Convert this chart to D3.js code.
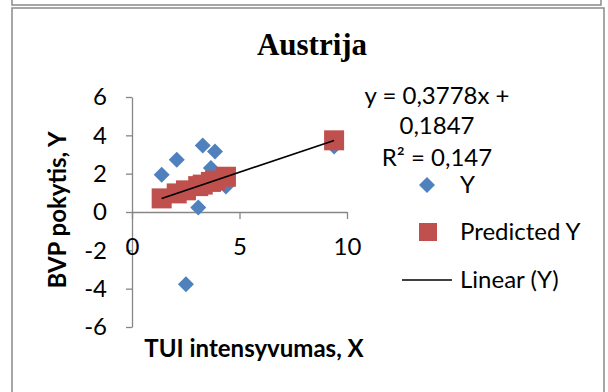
<!DOCTYPE html>
<html>
<head>
<meta charset="utf-8">
<script src="https://cdn.jsdelivr.net/npm/d3@7/dist/d3.min.js"></script>
<style>
  html, body { margin: 0; padding: 0; background: #ffffff; }
  svg { display: block; }
  .lbl { font-family: Lato, "Noto Sans", sans-serif; fill: #000; }
</style>
</head>
<body>
<svg id="chart" width="608" height="392"></svg>
<script>
// Observed values: TUI intensity (X) against GDP change (Y)
const tuiX      = [1.38, 2.08, 2.51, 3.08, 3.29, 3.67, 3.86, 4.37, 9.40];
const bvpY      = [1.94, 2.72, -3.77, 0.23, 3.47, 2.29, 3.16, 1.33, 3.42];
// Fitted values from the linear trend y = 0,3778x + 0,1847
const predictedY = [0.71, 0.97, 1.13, 1.35, 1.43, 1.57, 1.64, 1.84, 3.74];
const slope = 0.3778;
const intercept = 0.1847;

const xTicks = [0, 5, 10];
const yTicks = [-6, -4, -2, 0, 2, 4, 6];
const equationLines = ["y = 0,3778x +", "0,1847", "R² = 0,147"];
const legendItems = ["Y", "Predicted Y", "Linear (Y)"];

const FS = 24;
const blue = "#4F81BD";
const red = "#C0504D";
const axisGrey = "#868686";
const plainNumber = d => String(d);   // hyphen-minus, as in the worksheet

const svg = d3.select("#chart");

// page frames
svg.append("rect").attr("x", 12).attr("y", -10).attr("width", 589).attr("height", 15)
  .attr("fill", "none").attr("stroke", "#8a8a8a").attr("stroke-width", 1.5);
svg.append("rect").attr("x", 12).attr("y", 8).attr("width", 592).attr("height", 400)
  .attr("fill", "#fff").attr("stroke", "#8a8a8a").attr("stroke-width", 1.5);

const x = d3.scaleLinear().domain([0, 10]).range([132, 347]);
const y = d3.scaleLinear().domain([-6, 6]).range([327, 97]);

// title
svg.append("text").attr("x", 312).attr("y", 55).attr("text-anchor", "middle")
  .attr("font-family", "'Liberation Serif', 'Times New Roman', serif")
  .attr("font-weight", "bold").attr("font-size", 31).text("Austrija");

// y axis
const yAxis = svg.append("g").attr("transform", `translate(${x(0)},0)`)
  .call(d3.axisLeft(y).tickValues(yTicks).tickFormat(plainNumber)
    .tickSize(6).tickSizeOuter(0).tickPadding(19));

// x axis through y = 0
const xAxis = svg.append("g").attr("transform", `translate(0,${y(0)})`)
  .call(d3.axisBottom(x).tickValues(xTicks).tickFormat(plainNumber)
    .tickSize(7).tickSizeOuter(0).tickPadding(19));

[yAxis, xAxis].forEach(g => {
  g.selectAll("path, line").attr("stroke", axisGrey).attr("stroke-width", 1.3);
  g.selectAll("text").attr("class", "lbl").attr("font-size", FS).attr("fill", "#000")
    .attr("font-family", "Lato, 'Noto Sans', sans-serif");
});
xAxis.raise();

// axis titles
svg.append("text").attr("class", "lbl").attr("font-weight", "bold").attr("font-size", FS)
  .attr("text-anchor", "middle").attr("x", 254).attr("y", 357).text("TUI intensyvumas, X");
svg.append("text").attr("class", "lbl").attr("font-weight", "bold").attr("font-size", FS)
  .attr("text-anchor", "middle")
  .attr("transform", "translate(66,210) rotate(-90)").text("BVP pokytis, Y");

// observed points (diamonds)
const diamond = d3.symbol().type(d3.symbolSquare).size(128);
svg.append("g").selectAll("path").data(tuiX.map((v, i) => [v, bvpY[i]])).join("path")
  .attr("d", diamond)
  .attr("transform", d => `translate(${x(d[0])},${y(d[1])}) rotate(45)`)
  .attr("fill", blue);

// predicted points (squares)
svg.append("g").selectAll("rect").data(tuiX.map((v, i) => [v, predictedY[i]])).join("rect")
  .attr("x", d => x(d[0]) - 10).attr("y", d => y(d[1]) - 10)
  .attr("width", 20).attr("height", 20)
  .attr("fill", red);

// linear trend line
const [xMin, xMax] = d3.extent(tuiX);
svg.append("line")
  .attr("x1", x(xMin)).attr("y1", y(slope * xMin + intercept))
  .attr("x2", x(xMax)).attr("y2", y(slope * xMax + intercept))
  .attr("stroke", "#000").attr("stroke-width", 1.6);

// equation label
const eqBase = [104, 134, 166];
equationLines.forEach((t, i) => {
  svg.append("text").attr("class", "lbl").attr("font-size", FS).attr("text-anchor", "middle")
    .attr("x", 437).attr("y", eqBase[i]).text(t);
});

// legend
const legY = [185, 232, 280];
svg.append("path").attr("d", d3.symbol().type(d3.symbolSquare).size(128))
  .attr("transform", `translate(427,${legY[0]}) rotate(45)`).attr("fill", blue);
svg.append("rect").attr("x", 419).attr("y", legY[1] - 9).attr("width", 18).attr("height", 18)
  .attr("fill", red);
svg.append("line").attr("x1", 402).attr("x2", 452).attr("y1", legY[2]).attr("y2", legY[2])
  .attr("stroke", "#000").attr("stroke-width", 1.6);
legendItems.forEach((t, i) => {
  svg.append("text").attr("class", "lbl").attr("font-size", FS)
    .attr("x", 460).attr("y", legY[i] + 8).text(t);
});
</script>
</body>
</html>
